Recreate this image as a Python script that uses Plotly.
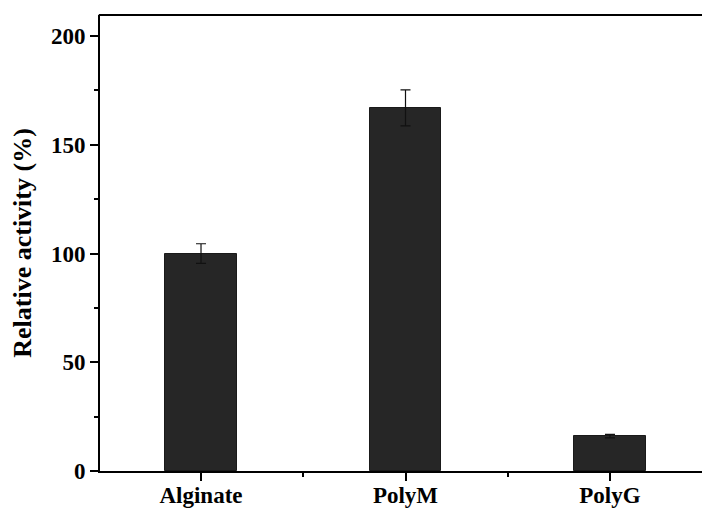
import plotly.graph_objects as go

categories = ["Alginate", "PolyM", "PolyG"]
activity = [100, 167, 16]
errors = [4.5, 8.3, 0.8]

x_pos = list(range(len(categories)))

fig = go.Figure()
fig.add_trace(go.Bar(
    x=x_pos, y=activity, width=0.352,
    marker=dict(color="#262626", line=dict(color="#1a1a1a", width=1)),
    error_y=dict(type="data", array=errors, visible=True, color="#111111", thickness=1.2, width=5),
))

fam = "Liberation Serif, Times New Roman, serif"
font = dict(family=fam, size=22, color="black")

fig.update_layout(
    width=702, height=510,
    margin=dict(l=100, r=0, t=15, b=39, autoexpand=False),
    paper_bgcolor="white", plot_bgcolor="white",
    showlegend=False,
    font=font,
    bargap=0,
)
# top frame line (right side of frame is cut off in the reference)
fig.add_shape(type="line", xref="paper", yref="paper", x0=-0.002, x1=1.0, y0=1, y1=1,
              line=dict(color="black", width=2), layer="above")
fig.update_xaxes(
    range=[-0.494, 2.45],
    tickvals=x_pos, ticktext=["<b>%s</b>" % c for c in categories],
    ticks="outside", ticklen=8, tickwidth=1.5, tickcolor="black",
    showline=True, linewidth=2, linecolor="black",
    showgrid=False, zeroline=False, automargin=False,
    ticklabelstandoff=-6,
    minor=dict(tickvals=[0.5, 1.5], ticks="outside", ticklen=4, tickwidth=1.5, tickcolor="black"),
    tickfont=dict(size=23, family=fam, color="black"),
)
fig.update_yaxes(
    range=[0, 209.7],
    tickvals=[0, 50, 100, 150, 200],
    ticktext=["<b>0</b>", "<b>50</b>", "<b>100</b>", "<b>150</b>", "<b>200</b>"],
    ticks="outside", ticklen=8, tickwidth=1.5, tickcolor="black",
    showline=True, linewidth=2, linecolor="black",
    showgrid=False, zeroline=False, automargin=False,
    minor=dict(tickvals=[25, 75, 125, 175], ticks="outside", ticklen=4, tickwidth=1.5, tickcolor="black"),
    tickfont=dict(size=23, family=fam, color="black"),
    title=dict(text="<b>Relative activity (%)</b>", font=dict(size=26, family=fam, color="black"), standoff=12),
)

fig.write_html("out.html")
